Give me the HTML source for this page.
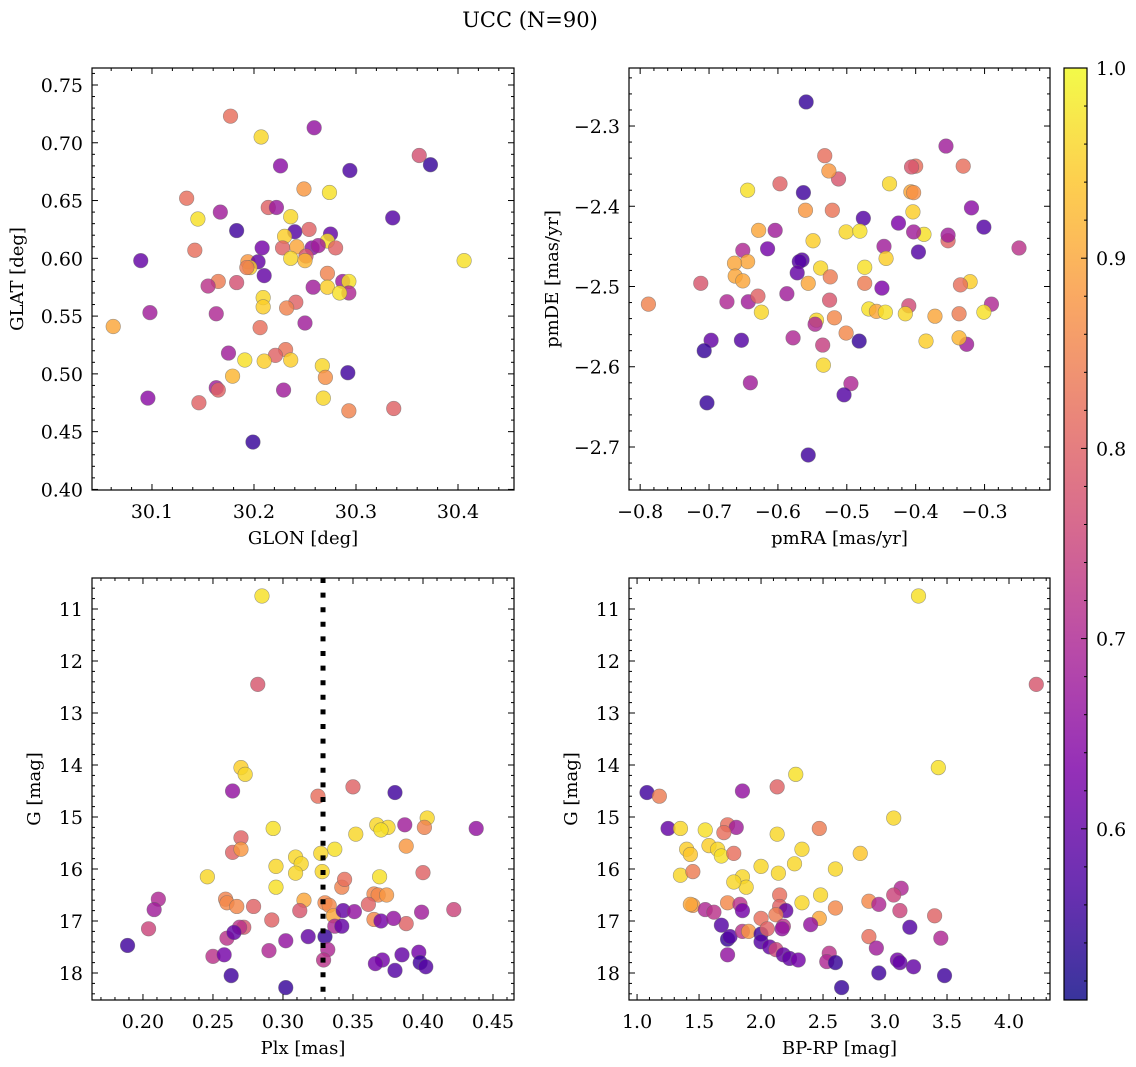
<!DOCTYPE html>
<html><head><meta charset="utf-8">
<style>
html,body{margin:0;padding:0;background:#fff;}
svg{display:block;font-family:"DejaVu Serif","Liberation Serif",serif;}
</style></head>
<body>
<svg id="fig" width="1136" height="1067" viewBox="0 0 1136 1067" xmlns="http://www.w3.org/2000/svg">
<text x="530" y="27" font-size="21" text-anchor="middle">UCC (N=90)</text>
</svg>
<script>
// ---- Panel 1 data: GLON, GLAT, probability
const glon=[30.177,30.207,30.259,30.362,30.373,30.226,30.294,30.134,30.249,30.274,30.145,30.336,30.167,30.214,30.222,30.236,30.183,30.240,30.254,30.275,30.272,30.230,30.242,30.142,30.208,30.228,30.257,30.263,30.280,30.251,30.236,30.250,30.089,30.406,30.194,30.204,30.196,30.272,30.210,30.165,30.193,30.183,30.287,30.293,30.258,30.272,30.209,30.293,30.284,30.155,30.209,30.098,30.241,30.163,30.232,30.250,30.062,30.206,30.175,30.231,30.221,30.191,30.210,30.236,30.267,30.292,30.179,30.270,30.163,30.165,30.229,30.096,30.268,30.146,30.293,30.337,30.199];
const glat=[0.723,0.705,0.713,0.689,0.681,0.680,0.676,0.652,0.660,0.657,0.634,0.635,0.640,0.644,0.644,0.636,0.624,0.623,0.625,0.621,0.615,0.619,0.610,0.607,0.609,0.609,0.609,0.611,0.609,0.602,0.600,0.598,0.598,0.598,0.597,0.597,0.592,0.587,0.585,0.580,0.592,0.579,0.580,0.580,0.575,0.575,0.566,0.570,0.570,0.576,0.558,0.553,0.562,0.552,0.557,0.544,0.541,0.540,0.518,0.521,0.516,0.512,0.511,0.512,0.507,0.501,0.498,0.497,0.488,0.486,0.486,0.479,0.479,0.475,0.468,0.470,0.441];
const prob1=[0.82,0.96,0.66,0.77,0.55,0.65,0.57,0.82,0.88,0.97,0.97,0.58,0.68,0.80,0.67,0.96,0.56,0.58,0.80,0.60,0.97,0.95,0.90,0.82,0.62,0.80,0.65,0.68,0.80,0.78,0.96,0.92,0.60,0.97,0.88,0.60,0.95,0.85,0.60,0.84,0.84,0.77,0.67,0.97,0.68,0.95,0.96,0.70,0.97,0.72,0.95,0.68,0.80,0.70,0.85,0.68,0.90,0.82,0.68,0.83,0.80,0.97,0.95,0.95,0.96,0.56,0.92,0.87,0.68,0.80,0.68,0.65,0.96,0.80,0.85,0.80,0.55];
// ---- Panel 2 data: pmRA, pmDE, probability
const pmra=[-0.559,-0.356,-0.532,-0.400,-0.406,-0.331,-0.512,-0.526,-0.438,-0.563,-0.644,-0.597,-0.407,-0.403,-0.521,-0.560,-0.476,-0.425,-0.319,-0.404,-0.301,-0.388,-0.501,-0.481,-0.353,-0.353,-0.403,-0.604,-0.628,-0.396,-0.651,-0.615,-0.565,-0.549,-0.644,-0.446,-0.474,-0.663,-0.443,-0.569,-0.538,-0.250,-0.712,-0.572,-0.662,-0.651,-0.587,-0.556,-0.524,-0.474,-0.321,-0.335,-0.449,-0.643,-0.525,-0.629,-0.624,-0.674,-0.468,-0.457,-0.444,-0.788,-0.290,-0.410,-0.301,-0.415,-0.337,-0.544,-0.518,-0.372,-0.578,-0.546,-0.501,-0.535,-0.482,-0.326,-0.337,-0.697,-0.653,-0.707,-0.385,-0.534,-0.640,-0.494,-0.703,-0.504,-0.556];
const pmde=[-2.270,-2.325,-2.337,-2.350,-2.351,-2.350,-2.366,-2.356,-2.372,-2.383,-2.380,-2.372,-2.382,-2.383,-2.405,-2.405,-2.415,-2.421,-2.402,-2.407,-2.426,-2.435,-2.432,-2.431,-2.443,-2.436,-2.432,-2.430,-2.430,-2.457,-2.455,-2.453,-2.467,-2.443,-2.469,-2.450,-2.476,-2.471,-2.465,-2.469,-2.477,-2.452,-2.496,-2.483,-2.487,-2.493,-2.509,-2.496,-2.488,-2.496,-2.494,-2.498,-2.502,-2.519,-2.517,-2.512,-2.532,-2.519,-2.528,-2.531,-2.532,-2.522,-2.522,-2.524,-2.532,-2.534,-2.534,-2.542,-2.539,-2.537,-2.564,-2.547,-2.558,-2.573,-2.568,-2.572,-2.564,-2.567,-2.567,-2.580,-2.568,-2.598,-2.620,-2.621,-2.645,-2.635,-2.710];
const prob2=[0.55,0.68,0.82,0.82,0.78,0.82,0.78,0.88,0.96,0.56,0.97,0.80,0.90,0.87,0.83,0.88,0.58,0.63,0.65,0.95,0.58,0.97,0.96,0.97,0.80,0.68,0.68,0.68,0.90,0.58,0.70,0.62,0.58,0.95,0.90,0.68,0.97,0.90,0.95,0.58,0.96,0.72,0.78,0.60,0.90,0.90,0.68,0.90,0.84,0.84,0.95,0.82,0.63,0.68,0.78,0.80,0.96,0.70,0.97,0.90,0.97,0.85,0.70,0.76,0.97,0.96,0.84,0.96,0.86,0.90,0.70,0.70,0.86,0.74,0.55,0.68,0.92,0.60,0.58,0.55,0.95,0.96,0.68,0.70,0.55,0.58,0.56];
// ---- Panel 3 data: Plx, G, probability
const plx=[0.285,0.282,0.270,0.273,0.264,0.325,0.350,0.380,0.438,0.270,0.387,0.293,0.403,0.367,0.375,0.370,0.401,0.337,0.327,0.264,0.270,0.309,0.352,0.388,0.313,0.295,0.328,0.369,0.400,0.342,0.309,0.246,0.295,0.365,0.368,0.374,0.344,0.259,0.260,0.315,0.330,0.333,0.267,0.279,0.292,0.312,0.336,0.343,0.361,0.399,0.422,0.365,0.388,0.337,0.351,0.342,0.211,0.208,0.330,0.204,0.272,0.269,0.290,0.260,0.302,0.318,0.265,0.332,0.250,0.258,0.370,0.379,0.189,0.329,0.371,0.385,0.397,0.398,0.402,0.380,0.366,0.263,0.302];
const gmag3=[10.75,12.45,14.05,14.18,14.5,14.6,14.42,14.53,15.22,15.4,15.15,15.22,15.02,15.15,15.2,15.25,15.2,15.62,15.7,15.68,15.62,15.77,15.33,15.56,15.9,15.95,16.05,16.15,16.07,16.35,16.08,16.15,16.35,16.48,16.5,16.5,16.2,16.58,16.65,16.6,16.65,16.7,16.72,16.72,16.98,16.8,16.9,16.8,16.68,16.83,16.78,16.97,17.05,17.1,16.82,17.1,16.58,16.78,17.3,17.15,17.12,17.12,17.57,17.33,17.38,17.3,17.22,17.55,17.68,17.65,17.0,16.95,17.47,17.75,17.75,17.65,17.6,17.8,17.88,17.95,17.82,18.05,18.28];
const prob3=[0.97,0.78,0.95,0.96,0.66,0.82,0.80,0.56,0.66,0.80,0.68,0.97,0.96,0.96,0.96,0.97,0.85,0.97,0.96,0.80,0.88,0.96,0.96,0.88,0.96,0.96,0.96,0.97,0.80,0.85,0.96,0.96,0.97,0.86,0.86,0.88,0.82,0.85,0.86,0.90,0.86,0.86,0.86,0.80,0.80,0.78,0.90,0.60,0.80,0.68,0.75,0.86,0.80,0.70,0.66,0.60,0.70,0.68,0.55,0.75,0.78,0.72,0.70,0.72,0.66,0.60,0.60,0.70,0.72,0.62,0.62,0.66,0.56,0.72,0.62,0.60,0.62,0.56,0.58,0.58,0.62,0.56,0.55];
const plxLine=[0.3286];
// ---- Panel 4 data: BP-RP, G, probability
const bprp=[3.27,4.22,3.43,2.28,1.85,1.08,1.18,2.13,3.07,1.25,1.35,1.55,1.73,1.80,2.47,1.70,2.13,1.58,1.40,1.65,2.33,1.43,1.68,1.78,2.80,2.00,2.27,2.60,1.35,1.45,2.14,1.85,1.88,1.78,2.15,2.48,3.13,3.07,1.45,1.43,1.55,1.62,1.73,1.83,1.85,2.00,2.15,2.20,2.33,2.47,2.12,2.60,2.87,2.95,3.12,3.40,1.68,1.73,1.75,1.85,1.90,2.00,2.05,2.18,2.17,2.40,2.87,2.93,3.20,3.45,1.73,2.00,2.07,2.12,2.18,2.23,2.30,2.55,2.53,2.60,2.95,3.10,3.12,3.23,3.48,2.65];
const gmag4=[10.75,12.45,14.05,14.18,14.5,14.53,14.6,14.42,15.02,15.22,15.22,15.25,15.15,15.2,15.22,15.3,15.33,15.55,15.62,15.62,15.62,15.72,15.75,15.7,15.7,15.95,15.9,16.0,16.12,16.05,16.08,16.15,16.35,16.25,16.5,16.5,16.37,16.5,16.7,16.68,16.78,16.83,16.65,16.68,16.8,16.95,16.72,16.8,16.65,16.95,16.88,16.75,16.62,16.68,16.8,16.9,17.08,17.35,17.3,17.2,17.2,17.25,17.15,17.1,17.15,17.07,17.3,17.52,17.12,17.33,17.65,17.4,17.5,17.55,17.65,17.72,17.75,17.62,17.78,17.8,18.0,17.75,17.8,17.88,18.05,18.28];
const prob4=[0.97,0.78,0.97,0.97,0.66,0.56,0.84,0.80,0.96,0.60,0.96,0.97,0.82,0.68,0.84,0.82,0.96,0.95,0.95,0.96,0.96,0.94,0.97,0.82,0.94,0.96,0.96,0.96,0.96,0.84,0.96,0.96,0.96,0.96,0.82,0.96,0.70,0.75,0.88,0.90,0.70,0.72,0.86,0.72,0.62,0.82,0.80,0.60,0.96,0.90,0.84,0.86,0.86,0.70,0.75,0.80,0.58,0.55,0.58,0.72,0.88,0.56,0.80,0.72,0.66,0.66,0.82,0.68,0.58,0.70,0.66,0.58,0.60,0.75,0.60,0.60,0.62,0.72,0.70,0.55,0.56,0.62,0.60,0.60,0.56,0.55];
// ---- Colorbar ticks
const cbTicks=[0.6,0.7,0.8,0.9,1.0];
const cbRange=[0.51,1.0];

const NS="http://www.w3.org/2000/svg";
const svg=document.getElementById('fig');
function mk(tag,attrs,parent){const e=document.createElementNS(NS,tag);for(const k in attrs)e.setAttribute(k,attrs[k]);(parent||svg).appendChild(e);return e;}
const stops=[[13,8,135],[76,2,161],[126,3,168],[169,35,149],[204,71,120],[229,107,93],[248,148,65],[253,195,40],[240,249,33]];
function plasma(t){t=Math.max(0,Math.min(1,t));const f=t*8,i=Math.min(7,Math.floor(f)),r=f-i;const a=stops[i],b=stops[i+1];return `rgb(${Math.round(a[0]+(b[0]-a[0])*r)},${Math.round(a[1]+(b[1]-a[1])*r)},${Math.round(a[2]+(b[2]-a[2])*r)})`;}
function cval(p){return (p-cbRange[0])/(cbRange[1]-cbRange[0]);}
function fmt(v,d){return (v<0?'\u2212':'')+Math.abs(v).toFixed(d);}
const TFS=19, LFS=18;

function panel(cfg){
  const g=mk('g',{});
  
  
  const {x0,y0,x1,y1,xr,yr,inv}=cfg;
  const sx=v=>x0+(v-xr[0])/(xr[1]-xr[0])*(x1-x0);
  const sy=v=>inv? y0+(v-yr[0])/(yr[1]-yr[0])*(y1-y0) : y1-(v-yr[0])/(yr[1]-yr[0])*(y1-y0);
  const clip='c'+cfg.name;
  const cp=mk('clipPath',{id:clip},g);mk('rect',{x:x0,y:y0,width:x1-x0,height:y1-y0},cp);
  const pts=mk('g',{'clip-path':`url(#${clip})`},g);
  for(let i=0;i<cfg.xs.length;i++){
    const c=mk('circle',{cx:sx(cfg.xs[i]),cy:sy(cfg.ys[i]),r:7.3,fill:plasma(cval(cfg.ps[i])),'fill-opacity':0.82,stroke:'#666','stroke-opacity':0.6,'stroke-width':0.6},pts);
    
    
  }
  if(cfg.vline){
    const ln=mk('line',{x1:sx(cfg.vline[0]),x2:sx(cfg.vline[0]),y1:y0,y2:y1,stroke:'#000','stroke-width':5,'stroke-dasharray':'5,9.6'},pts);
    
    
  }
  mk('rect',{x:x0,y:y0,width:x1-x0,height:y1-y0,fill:'none',stroke:'#000','stroke-width':1.2},g);
  const eps=1e-9;
  for(let v=Math.ceil(xr[0]/cfg.xmin-eps)*cfg.xmin;v<=xr[1]+eps;v+=cfg.xmin){
    const X=sx(v);const isMaj=Math.abs(Math.round(v/cfg.xmaj)*cfg.xmaj-v)<cfg.xmin/10;const L=isMaj?6:3;
    mk('line',{x1:X,x2:X,y1:y1,y2:y1-L,stroke:'#000','stroke-width':1},g);
    mk('line',{x1:X,x2:X,y1:y0,y2:y0+L,stroke:'#000','stroke-width':1},g);
    if(isMaj){const t=mk('text',{x:X,y:y1+28,'font-size':TFS,'text-anchor':'middle'},g);t.textContent=fmt(Math.round(v/cfg.xmaj)*cfg.xmaj,cfg.xd);
      }
  }
  for(let v=Math.ceil(yr[0]/cfg.ymin-eps)*cfg.ymin;v<=yr[1]+eps;v+=cfg.ymin){
    const Y=sy(v);const isMaj=Math.abs(Math.round(v/cfg.ymaj)*cfg.ymaj-v)<cfg.ymin/10;const L=isMaj?6:3;
    mk('line',{x1:x0,x2:x0+L,y1:Y,y2:Y,stroke:'#000','stroke-width':1},g);
    mk('line',{x1:x1,x2:x1-L,y1:Y,y2:Y,stroke:'#000','stroke-width':1},g);
    if(isMaj){const t=mk('text',{x:x0-9,y:Y+7,'font-size':TFS,'text-anchor':'end'},g);t.textContent=fmt(Math.round(v/cfg.ymaj)*cfg.ymaj,cfg.yd);
      }
  }
  const xl=mk('text',{x:(x0+x1)/2,y:y1+54,'font-size':LFS,'text-anchor':'middle'},g);xl.textContent=cfg.xlab;
  
  const yx=cfg.ylx;const yc=(y0+y1)/2;
  const yl=mk('text',{x:yx,y:yc,'font-size':LFS,'text-anchor':'middle',transform:`rotate(-90 ${yx} ${yc})`},g);yl.textContent=cfg.ylab;
  
}
panel({name:'glon-glat-panel',x0:92,y0:68,x1:514,y1:490,xr:[30.0412,30.4549],yr:[0.3995,0.7647],xs:glon,ys:glat,ps:prob1,xmaj:0.1,xmin:0.02,ymaj:0.05,ymin:0.01,xd:1,yd:2,xlab:'GLON [deg]',ylab:'GLAT [deg]',ylx:23});
panel({name:'proper-motion-panel',x0:629,y0:68,x1:1050,y1:490,xr:[-0.8162,-0.2050],yr:[-2.7536,-2.2277],xs:pmra,ys:pmde,ps:prob2,xmaj:0.1,xmin:0.02,ymaj:0.1,ymin:0.02,xd:1,yd:1,xlab:'pmRA [mas/yr]',ylab:'pmDE [mas/yr]',ylx:558});
panel({name:'plx-g-panel',x0:92,y0:578,x1:514,y1:1000,xr:[0.1636,0.4650],yr:[10.404,18.519],inv:true,xs:plx,ys:gmag3,ps:prob3,xmaj:0.05,xmin:0.01,ymaj:1,ymin:0.2,xd:2,yd:0,xlab:'Plx [mas]',ylab:'G [mag]',ylx:40,vline:plxLine});
panel({name:'cmd-panel',x0:629,y0:578,x1:1050,y1:1000,xr:[0.935,4.3306],yr:[10.404,18.519],inv:true,xs:bprp,ys:gmag4,ps:prob4,xmaj:0.5,xmin:0.1,ymaj:1,ymin:0.2,xd:1,yd:0,xlab:'BP-RP [mag]',ylab:'G [mag]',ylx:577});

const cb=mk('g',{});


const defs=mk('defs',{},cb);
const lg=mk('linearGradient',{id:'plasmaGrad',x1:0,y1:1,x2:0,y2:0},defs);
for(let i=0;i<=16;i++){mk('stop',{offset:i/16,'stop-color':plasma(i/16),'stop-opacity':0.82},lg);}
const cbx=1064,cbw=23,cby0=68,cby1=1000;
mk('rect',{x:cbx,y:cby0,width:cbw,height:cby1-cby0,fill:'url(#plasmaGrad)',stroke:'#000','stroke-width':1.2},cb);
const cy=v=>cby1-(v-cbRange[0])/(cbRange[1]-cbRange[0])*(cby1-cby0);
for(let v=0.52;v<=1.0001;v+=0.02){const Y=cy(v);const maj=Math.abs(Math.round(v*10)/10-v)<0.002;
  mk('line',{x1:cbx+cbw,x2:cbx+cbw-(maj?6:3),y1:Y,y2:Y,stroke:'#000','stroke-width':1},cb);}
for(const v of cbTicks){const t=mk('text',{x:cbx+cbw+9,y:cy(v)+7,'font-size':TFS},cb);t.textContent=v.toFixed(1);
  }
</script>
</body></html>
